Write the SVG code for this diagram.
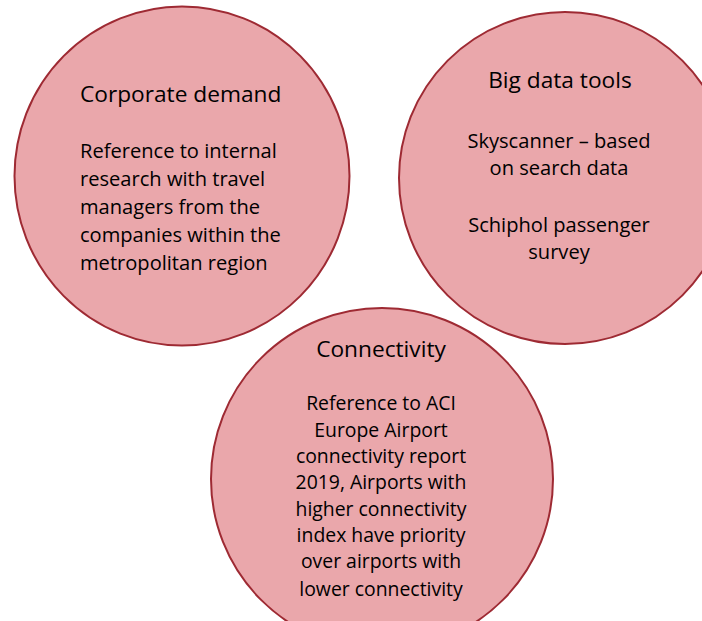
<svg xmlns="http://www.w3.org/2000/svg" width="702" height="621" viewBox="0 0 702 621">
  <style>
    .node { fill: #EAA7AB; stroke: #9E2A33; stroke-width: 2; }
    .title { font-family: "Open Sans", "Liberation Sans", sans-serif; font-size: 22.7px; fill: #000000; }
    .body { font-family: "Open Sans", "Liberation Sans", sans-serif; font-size: 20.1px; fill: #000000; }
    .body3 { font-family: "Open Sans", "Liberation Sans", sans-serif; font-size: 19.4px; fill: #000000; }
    .mid { text-anchor: middle; }
  </style>
  <rect x="0" y="0" width="702" height="621" fill="#FFFFFF"/>
  <g id="corporate-demand">
    <ellipse class="node" cx="182" cy="176" rx="167.5" ry="169.5"/>
    <text class="title" x="80" y="102">Corporate demand</text>
    <text class="body" x="80" y="158">Reference to internal</text>
    <text class="body" x="80" y="186">research with travel</text>
    <text class="body" x="80" y="214">managers from the</text>
    <text class="body" x="80" y="242">companies within the</text>
    <text class="body" x="80" y="270">metropolitan region</text>
  </g>
  <g id="big-data-tools">
    <circle class="node" cx="565" cy="178" r="166"/>
    <text class="title mid" x="560" y="88">Big data tools</text>
    <text class="body mid" x="559" y="148">Skyscanner – based</text>
    <text class="body mid" x="559" y="175">on search data</text>
    <text class="body mid" x="559" y="232">Schiphol passenger</text>
    <text class="body mid" x="559" y="259">survey</text>
  </g>
  <g id="connectivity">
    <circle class="node" cx="382" cy="479" r="171"/>
    <text class="title mid" x="381" y="357">Connectivity</text>
    <text class="body3 mid" x="381" y="410">Reference to ACI</text>
    <text class="body3 mid" x="381" y="437">Europe Airport</text>
    <text class="body3 mid" x="381" y="463">connectivity report</text>
    <text class="body3 mid" x="381" y="489">2019, Airports with</text>
    <text class="body3 mid" x="381" y="516">higher connectivity</text>
    <text class="body3 mid" x="381" y="542">index have priority</text>
    <text class="body3 mid" x="381" y="568">over airports with</text>
    <text class="body3 mid" x="381" y="596">lower connectivity</text>
  </g>
  <g id="connectors"></g>
</svg>
